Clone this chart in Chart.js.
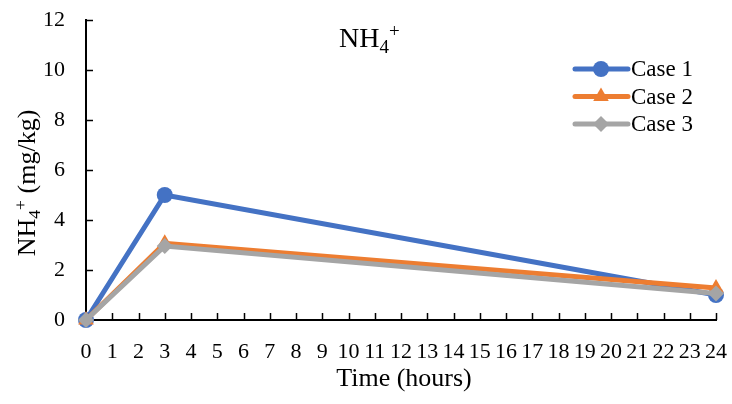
<!DOCTYPE html>
<html>
<head>
<meta charset="utf-8">
<script src="https://cdn.jsdelivr.net/npm/chart.js@4/dist/chart.umd.min.js"></script>
<style>
  html, body { margin: 0; padding: 0; background: #fff; }
  #wrap { width: 732px; height: 404px; }
</style>
</head>
<body>
<div id="wrap"><canvas id="nh4Chart"></canvas></div>
<script>
const hours = [0, 3, 24];
const case1 = [0, 5.0, 1.0];
const case2 = [0, 3.07, 1.28];
const case3 = [0, 2.96, 1.06];
const seriesNames = ['Case 1', 'Case 2', 'Case 3'];
const seriesColors = ['#4472C4', '#ED7D31', '#A5A5A5'];
const seriesMarkers = ['circle', 'triangle', 'rectRot'];
const xTicks = { min: 0, max: 24, step: 1 };
const yTicks = { min: 0, max: 12, step: 2 };

const SERIF = '"Liberation Serif", "Times New Roman", serif';

function toPoints(values) {
  return values.map((v, i) => ({ x: hours[i], y: v }));
}

const datasets = [case1, case2, case3].map((vals, i) => ({
  label: seriesNames[i],
  data: toPoints(vals),
  borderColor: seriesColors[i],
  backgroundColor: seriesColors[i],
  borderWidth: 5,
  pointStyle: seriesMarkers[i],
  pointRadius: i === 1 ? 9 : 8,
  pointBorderWidth: 0,
  tension: 0,
  clip: false,
  order: 2 - i
}));

// text made of chunks: [text, 'n' | 'sub' | 'sup']
function drawRich(ctx, parts, x, y, size) {
  let cx = x;
  parts.forEach(([txt, kind]) => {
    let fs = size, dy = 0;
    if (kind === 'sub') { fs = size * 0.68; dy = size * 0.2; }
    if (kind === 'sup') { fs = size * 0.68; dy = -size * 0.36; }
    ctx.font = fs + 'px ' + SERIF;
    ctx.fillText(txt, cx, y + dy);
    cx += ctx.measureText(txt).width;
  });
  return cx - x;
}

function richWidth(ctx, parts, size) {
  let w = 0;
  parts.forEach(([txt, kind]) => {
    const fs = kind === 'n' ? size : size * 0.68;
    ctx.font = fs + 'px ' + SERIF;
    w += ctx.measureText(txt).width;
  });
  return w;
}

const extras = {
  id: 'extras',
  afterDraw(chart) {
    const { ctx, chartArea, scales } = chart;
    ctx.save();
    ctx.fillStyle = '#000';
    ctx.textBaseline = 'alphabetic';
    ctx.textAlign = 'left';

    // inner tick marks
    ctx.strokeStyle = '#000';
    ctx.lineWidth = 1.5;
    ctx.beginPath();
    for (let v = xTicks.min + xTicks.step; v <= xTicks.max; v += xTicks.step) {
      const px = Math.round(scales.x.getPixelForValue(v)) + 0.5;
      ctx.moveTo(px, chartArea.bottom);
      ctx.lineTo(px, chartArea.bottom - 7);
    }
    for (let v = yTicks.min + yTicks.step; v <= yTicks.max; v += yTicks.step) {
      const py = Math.round(scales.y.getPixelForValue(v)) + 0.5;
      ctx.moveTo(chartArea.left, py);
      ctx.lineTo(chartArea.left + 7, py);
    }
    ctx.stroke();

    // chart title
    drawRich(ctx, [['NH', 'n'], ['4', 'sub'], ['+', 'sup']], 339, 47, 28);

    // x axis title
    ctx.font = '26px ' + SERIF;
    ctx.textAlign = 'center';
    ctx.fillText('Time (hours)', (chartArea.left + chartArea.right) / 2 + 3, 386);
    ctx.textAlign = 'left';

    // y axis title
    const yTitle = [['NH', 'n'], ['4', 'sub'], ['+', 'sup'], [' (mg/kg)', 'n']];
    const w = richWidth(ctx, yTitle, 26);
    ctx.translate(35, 183);
    ctx.rotate(-Math.PI / 2);
    drawRich(ctx, yTitle, -w / 2, 0, 26);
    ctx.setTransform(1, 0, 0, 1, 0, 0);

    // legend: line segment with marker, then label
    chart.data.datasets.forEach((ds, i) => {
      const ly = 69 + i * 27.5;
      ctx.strokeStyle = ds.borderColor;
      ctx.lineWidth = 5;
      ctx.lineCap = 'round';
      ctx.beginPath();
      ctx.moveTo(575, ly);
      ctx.lineTo(628, ly);
      ctx.stroke();
      ctx.fillStyle = ds.backgroundColor;
      Chart.helpers.drawPoint(ctx, {
        pointStyle: ds.pointStyle, radius: ds.pointRadius, rotation: 0, borderWidth: 0
      }, 601, ly);
      ctx.fillStyle = '#000';
      ctx.font = '23px ' + SERIF;
      ctx.textBaseline = 'middle';
      ctx.fillText(ds.label, 631, ly + 1);
    });
    ctx.restore();
  }
};

new Chart(document.getElementById('nh4Chart'), {
  type: 'line',
  data: { datasets },
  plugins: [extras],
  options: {
    responsive: true,
    maintainAspectRatio: false,
    animation: false,
    layout: { padding: { top: 20, right: 16, left: 0, bottom: 0 } },
    plugins: { legend: { display: false }, tooltip: { enabled: false }, title: { display: false } },
    scales: {
      x: {
        type: 'linear',
        min: xTicks.min,
        max: xTicks.max,
        grid: { display: false, drawTicks: false },
        border: { color: '#000', width: 2 },
        ticks: {
          stepSize: xTicks.step,
          autoSkip: false,
          maxRotation: 0,
          padding: 19,
          color: '#000',
          font: { family: SERIF, size: 22 }
        },
        afterFit(scale) {
          scale.height = 84;
          scale.paddingLeft = 0;
          scale.paddingRight = 0;
        }
      },
      y: {
        min: yTicks.min,
        max: yTicks.max,
        grid: { display: false, drawTicks: false },
        border: { color: '#000', width: 2 },
        ticks: {
          stepSize: yTicks.step,
          padding: 21,
          color: '#000',
          font: { family: SERIF, size: 22 }
        },
        afterFit(scale) {
          scale.width = 86;
          scale.paddingTop = 0;
          scale.paddingBottom = 0;
        }
      }
    }
  }
});
</script>
</body>
</html>
